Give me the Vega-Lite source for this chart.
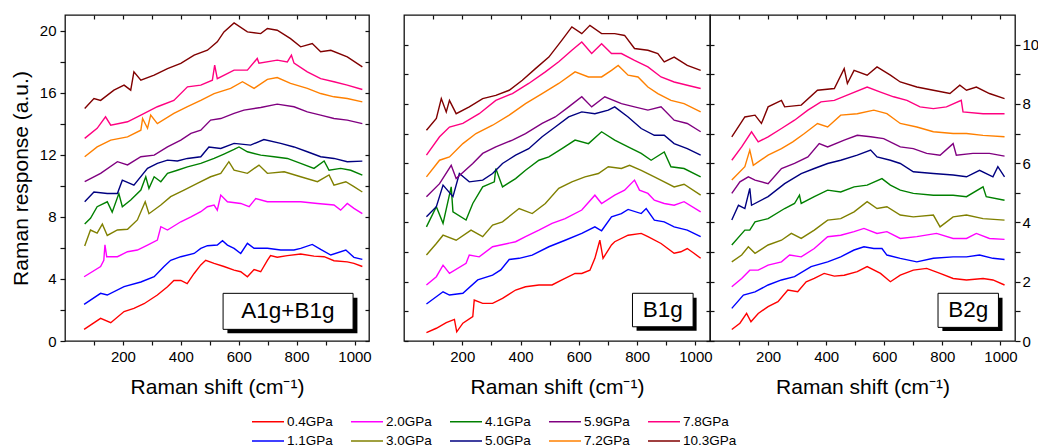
{
"$schema":"https://vega.github.io/schema/vega-lite/v6.json",
"padding":{"left":9,"top":13,"right":2,"bottom":2},
"background":"white",
"config":{"font":"Liberation Sans","view":{"stroke":"#111","strokeWidth":1.3},
"axis":{"domain":false,"grid":false,"labelFont":"Liberation Sans","labelFontSize":15,"labelColor":"black","tickColor":"#111","tickWidth":1.2,"titleFont":"Liberation Sans","titleFontSize":21,"titleFontWeight":"normal","titleColor":"black","labelFlush":false,"labelOverlap":false},
"legend":{"labelFont":"Liberation Sans"}},
"data":{"values":[
{"p":"A","s":"0.4GPa","x":66,"y":0.75},{"p":"A","s":"0.4GPa","x":123,"y":1.46},{"p":"A","s":"0.4GPa","x":158,"y":1.18},{"p":"A","s":"0.4GPa","x":204,"y":1.9},{"p":"A","s":"0.4GPa","x":238,"y":2.1},{"p":"A","s":"0.4GPa","x":273,"y":2.4},{"p":"A","s":"0.4GPa","x":319,"y":2.96},{"p":"A","s":"0.4GPa","x":354,"y":3.5},{"p":"A","s":"0.4GPa","x":376,"y":3.9},{"p":"A","s":"0.4GPa","x":400,"y":3.9},{"p":"A","s":"0.4GPa","x":422,"y":3.7},{"p":"A","s":"0.4GPa","x":446,"y":4.35},{"p":"A","s":"0.4GPa","x":469,"y":4.9},{"p":"A","s":"0.4GPa","x":486,"y":5.2},{"p":"A","s":"0.4GPa","x":515,"y":5.0},{"p":"A","s":"0.4GPa","x":549,"y":4.8},{"p":"A","s":"0.4GPa","x":584,"y":4.57},{"p":"A","s":"0.4GPa","x":607,"y":4.46},{"p":"A","s":"0.4GPa","x":630,"y":4.14},{"p":"A","s":"0.4GPa","x":653,"y":4.6},{"p":"A","s":"0.4GPa","x":676,"y":4.46},{"p":"A","s":"0.4GPa","x":699,"y":5.2},{"p":"A","s":"0.4GPa","x":710,"y":5.5},{"p":"A","s":"0.4GPa","x":733,"y":5.4},{"p":"A","s":"0.4GPa","x":768,"y":5.5},{"p":"A","s":"0.4GPa","x":814,"y":5.6},{"p":"A","s":"0.4GPa","x":860,"y":5.47},{"p":"A","s":"0.4GPa","x":895,"y":5.43},{"p":"A","s":"0.4GPa","x":929,"y":5.17},{"p":"A","s":"0.4GPa","x":975,"y":5.1},{"p":"A","s":"0.4GPa","x":998,"y":5.0},{"p":"A","s":"0.4GPa","x":1027,"y":4.8},
{"p":"A","s":"1.1GPa","x":66,"y":2.36},{"p":"A","s":"1.1GPa","x":123,"y":3.07},{"p":"A","s":"1.1GPa","x":146,"y":2.96},{"p":"A","s":"1.1GPa","x":204,"y":3.5},{"p":"A","s":"1.1GPa","x":262,"y":3.8},{"p":"A","s":"1.1GPa","x":308,"y":4.14},{"p":"A","s":"1.1GPa","x":342,"y":4.8},{"p":"A","s":"1.1GPa","x":365,"y":5.2},{"p":"A","s":"1.1GPa","x":400,"y":5.43},{"p":"A","s":"1.1GPa","x":446,"y":5.64},{"p":"A","s":"1.1GPa","x":469,"y":5.97},{"p":"A","s":"1.1GPa","x":492,"y":6.14},{"p":"A","s":"1.1GPa","x":526,"y":6.18},{"p":"A","s":"1.1GPa","x":544,"y":6.46},{"p":"A","s":"1.1GPa","x":561,"y":6.18},{"p":"A","s":"1.1GPa","x":584,"y":5.97},{"p":"A","s":"1.1GPa","x":607,"y":5.64},{"p":"A","s":"1.1GPa","x":630,"y":6.29},{"p":"A","s":"1.1GPa","x":653,"y":5.97},{"p":"A","s":"1.1GPa","x":699,"y":5.97},{"p":"A","s":"1.1GPa","x":745,"y":5.86},{"p":"A","s":"1.1GPa","x":791,"y":5.86},{"p":"A","s":"1.1GPa","x":814,"y":5.97},{"p":"A","s":"1.1GPa","x":854,"y":6.22},{"p":"A","s":"1.1GPa","x":883,"y":5.9},{"p":"A","s":"1.1GPa","x":918,"y":5.54},{"p":"A","s":"1.1GPa","x":970,"y":5.86},{"p":"A","s":"1.1GPa","x":998,"y":5.39},{"p":"A","s":"1.1GPa","x":1027,"y":5.26},
{"p":"A","s":"2.0GPa","x":66,"y":4.14},{"p":"A","s":"2.0GPa","x":123,"y":4.8},{"p":"A","s":"2.0GPa","x":134,"y":5.2},{"p":"A","s":"2.0GPa","x":138,"y":6.2},{"p":"A","s":"2.0GPa","x":144,"y":5.43},{"p":"A","s":"2.0GPa","x":181,"y":5.43},{"p":"A","s":"2.0GPa","x":216,"y":5.75},{"p":"A","s":"2.0GPa","x":250,"y":5.86},{"p":"A","s":"2.0GPa","x":285,"y":6.18},{"p":"A","s":"2.0GPa","x":319,"y":6.5},{"p":"A","s":"2.0GPa","x":331,"y":7.36},{"p":"A","s":"2.0GPa","x":354,"y":7.15},{"p":"A","s":"2.0GPa","x":400,"y":7.68},{"p":"A","s":"2.0GPa","x":435,"y":8.0},{"p":"A","s":"2.0GPa","x":469,"y":8.33},{"p":"A","s":"2.0GPa","x":492,"y":8.65},{"p":"A","s":"2.0GPa","x":515,"y":8.76},{"p":"A","s":"2.0GPa","x":526,"y":8.43},{"p":"A","s":"2.0GPa","x":538,"y":9.4},{"p":"A","s":"2.0GPa","x":561,"y":8.97},{"p":"A","s":"2.0GPa","x":607,"y":8.86},{"p":"A","s":"2.0GPa","x":636,"y":8.65},{"p":"A","s":"2.0GPa","x":659,"y":9.18},{"p":"A","s":"2.0GPa","x":699,"y":8.97},{"p":"A","s":"2.0GPa","x":757,"y":8.97},{"p":"A","s":"2.0GPa","x":814,"y":8.97},{"p":"A","s":"2.0GPa","x":872,"y":8.86},{"p":"A","s":"2.0GPa","x":929,"y":8.76},{"p":"A","s":"2.0GPa","x":952,"y":8.43},{"p":"A","s":"2.0GPa","x":975,"y":8.86},{"p":"A","s":"2.0GPa","x":998,"y":8.54},{"p":"A","s":"2.0GPa","x":1027,"y":8.2},
{"p":"A","s":"3.0GPa","x":68,"y":6.12},{"p":"A","s":"3.0GPa","x":88,"y":7.15},{"p":"A","s":"3.0GPa","x":111,"y":6.95},{"p":"A","s":"3.0GPa","x":129,"y":7.53},{"p":"A","s":"3.0GPa","x":146,"y":6.8},{"p":"A","s":"3.0GPa","x":181,"y":7.15},{"p":"A","s":"3.0GPa","x":216,"y":7.2},{"p":"A","s":"3.0GPa","x":250,"y":7.8},{"p":"A","s":"3.0GPa","x":277,"y":8.97},{"p":"A","s":"3.0GPa","x":290,"y":8.2},{"p":"A","s":"3.0GPa","x":331,"y":8.76},{"p":"A","s":"3.0GPa","x":365,"y":9.3},{"p":"A","s":"3.0GPa","x":411,"y":9.72},{"p":"A","s":"3.0GPa","x":457,"y":10.15},{"p":"A","s":"3.0GPa","x":503,"y":10.58},{"p":"A","s":"3.0GPa","x":538,"y":10.8},{"p":"A","s":"3.0GPa","x":566,"y":11.55},{"p":"A","s":"3.0GPa","x":584,"y":11.0},{"p":"A","s":"3.0GPa","x":630,"y":10.8},{"p":"A","s":"3.0GPa","x":670,"y":11.33},{"p":"A","s":"3.0GPa","x":699,"y":10.8},{"p":"A","s":"3.0GPa","x":757,"y":10.9},{"p":"A","s":"3.0GPa","x":814,"y":10.58},{"p":"A","s":"3.0GPa","x":872,"y":10.26},{"p":"A","s":"3.0GPa","x":912,"y":10.7},{"p":"A","s":"3.0GPa","x":929,"y":10.04},{"p":"A","s":"3.0GPa","x":970,"y":10.26},{"p":"A","s":"3.0GPa","x":998,"y":9.94},{"p":"A","s":"3.0GPa","x":1027,"y":9.6},
{"p":"A","s":"4.1GPa","x":68,"y":7.53},{"p":"A","s":"4.1GPa","x":88,"y":7.9},{"p":"A","s":"4.1GPa","x":111,"y":8.65},{"p":"A","s":"4.1GPa","x":146,"y":8.97},{"p":"A","s":"4.1GPa","x":163,"y":8.3},{"p":"A","s":"4.1GPa","x":186,"y":9.5},{"p":"A","s":"4.1GPa","x":198,"y":8.65},{"p":"A","s":"4.1GPa","x":227,"y":9.08},{"p":"A","s":"4.1GPa","x":262,"y":9.72},{"p":"A","s":"4.1GPa","x":279,"y":10.58},{"p":"A","s":"4.1GPa","x":290,"y":9.83},{"p":"A","s":"4.1GPa","x":308,"y":10.58},{"p":"A","s":"4.1GPa","x":331,"y":10.26},{"p":"A","s":"4.1GPa","x":354,"y":10.8},{"p":"A","s":"4.1GPa","x":388,"y":11.0},{"p":"A","s":"4.1GPa","x":423,"y":11.22},{"p":"A","s":"4.1GPa","x":469,"y":11.44},{"p":"A","s":"4.1GPa","x":515,"y":11.76},{"p":"A","s":"4.1GPa","x":549,"y":12.04},{"p":"A","s":"4.1GPa","x":584,"y":12.34},{"p":"A","s":"4.1GPa","x":601,"y":12.5},{"p":"A","s":"4.1GPa","x":630,"y":12.19},{"p":"A","s":"4.1GPa","x":676,"y":11.97},{"p":"A","s":"4.1GPa","x":722,"y":11.87},{"p":"A","s":"4.1GPa","x":768,"y":11.76},{"p":"A","s":"4.1GPa","x":814,"y":11.44},{"p":"A","s":"4.1GPa","x":860,"y":11.12},{"p":"A","s":"4.1GPa","x":895,"y":11.6},{"p":"A","s":"4.1GPa","x":912,"y":11.0},{"p":"A","s":"4.1GPa","x":952,"y":11.12},{"p":"A","s":"4.1GPa","x":987,"y":11.0},{"p":"A","s":"4.1GPa","x":1027,"y":10.69},
{"p":"A","s":"5.0GPa","x":68,"y":8.97},{"p":"A","s":"5.0GPa","x":100,"y":9.6},{"p":"A","s":"5.0GPa","x":146,"y":9.5},{"p":"A","s":"5.0GPa","x":181,"y":9.5},{"p":"A","s":"5.0GPa","x":198,"y":10.36},{"p":"A","s":"5.0GPa","x":238,"y":10.04},{"p":"A","s":"5.0GPa","x":285,"y":11.12},{"p":"A","s":"5.0GPa","x":319,"y":11.44},{"p":"A","s":"5.0GPa","x":354,"y":11.65},{"p":"A","s":"5.0GPa","x":388,"y":11.6},{"p":"A","s":"5.0GPa","x":423,"y":11.76},{"p":"A","s":"5.0GPa","x":469,"y":11.87},{"p":"A","s":"5.0GPa","x":497,"y":12.5},{"p":"A","s":"5.0GPa","x":538,"y":12.4},{"p":"A","s":"5.0GPa","x":584,"y":12.73},{"p":"A","s":"5.0GPa","x":641,"y":12.62},{"p":"A","s":"5.0GPa","x":687,"y":12.98},{"p":"A","s":"5.0GPa","x":745,"y":12.73},{"p":"A","s":"5.0GPa","x":791,"y":12.5},{"p":"A","s":"5.0GPa","x":837,"y":12.19},{"p":"A","s":"5.0GPa","x":883,"y":11.87},{"p":"A","s":"5.0GPa","x":929,"y":11.76},{"p":"A","s":"5.0GPa","x":975,"y":11.55},{"p":"A","s":"5.0GPa","x":1027,"y":11.59},
{"p":"A","s":"5.9GPa","x":68,"y":10.26},{"p":"A","s":"5.9GPa","x":123,"y":10.8},{"p":"A","s":"5.9GPa","x":181,"y":11.55},{"p":"A","s":"5.9GPa","x":216,"y":11.34},{"p":"A","s":"5.9GPa","x":262,"y":11.87},{"p":"A","s":"5.9GPa","x":308,"y":11.97},{"p":"A","s":"5.9GPa","x":354,"y":12.5},{"p":"A","s":"5.9GPa","x":400,"y":12.94},{"p":"A","s":"5.9GPa","x":435,"y":13.37},{"p":"A","s":"5.9GPa","x":469,"y":13.58},{"p":"A","s":"5.9GPa","x":503,"y":14.23},{"p":"A","s":"5.9GPa","x":538,"y":14.33},{"p":"A","s":"5.9GPa","x":584,"y":14.66},{"p":"A","s":"5.9GPa","x":618,"y":14.87},{"p":"A","s":"5.9GPa","x":676,"y":15.04},{"p":"A","s":"5.9GPa","x":733,"y":15.26},{"p":"A","s":"5.9GPa","x":791,"y":15.09},{"p":"A","s":"5.9GPa","x":837,"y":14.76},{"p":"A","s":"5.9GPa","x":883,"y":14.55},{"p":"A","s":"5.9GPa","x":929,"y":14.33},{"p":"A","s":"5.9GPa","x":975,"y":14.23},{"p":"A","s":"5.9GPa","x":1027,"y":14.0},
{"p":"A","s":"7.2GPa","x":68,"y":11.87},{"p":"A","s":"7.2GPa","x":111,"y":12.5},{"p":"A","s":"7.2GPa","x":158,"y":12.94},{"p":"A","s":"7.2GPa","x":216,"y":13.15},{"p":"A","s":"7.2GPa","x":262,"y":13.58},{"p":"A","s":"7.2GPa","x":268,"y":14.33},{"p":"A","s":"7.2GPa","x":285,"y":13.7},{"p":"A","s":"7.2GPa","x":296,"y":14.55},{"p":"A","s":"7.2GPa","x":319,"y":14.0},{"p":"A","s":"7.2GPa","x":376,"y":14.66},{"p":"A","s":"7.2GPa","x":423,"y":15.09},{"p":"A","s":"7.2GPa","x":469,"y":15.5},{"p":"A","s":"7.2GPa","x":515,"y":15.94},{"p":"A","s":"7.2GPa","x":572,"y":16.27},{"p":"A","s":"7.2GPa","x":613,"y":16.7},{"p":"A","s":"7.2GPa","x":653,"y":16.27},{"p":"A","s":"7.2GPa","x":699,"y":16.85},{"p":"A","s":"7.2GPa","x":733,"y":16.97},{"p":"A","s":"7.2GPa","x":779,"y":16.6},{"p":"A","s":"7.2GPa","x":837,"y":16.27},{"p":"A","s":"7.2GPa","x":883,"y":15.94},{"p":"A","s":"7.2GPa","x":929,"y":15.73},{"p":"A","s":"7.2GPa","x":975,"y":15.62},{"p":"A","s":"7.2GPa","x":1027,"y":15.4},
{"p":"A","s":"7.8GPa","x":68,"y":13.05},{"p":"A","s":"7.8GPa","x":111,"y":13.7},{"p":"A","s":"7.8GPa","x":140,"y":14.44},{"p":"A","s":"7.8GPa","x":158,"y":13.9},{"p":"A","s":"7.8GPa","x":216,"y":14.12},{"p":"A","s":"7.8GPa","x":262,"y":14.55},{"p":"A","s":"7.8GPa","x":319,"y":15.09},{"p":"A","s":"7.8GPa","x":376,"y":15.5},{"p":"A","s":"7.8GPa","x":423,"y":16.37},{"p":"A","s":"7.8GPa","x":469,"y":16.48},{"p":"A","s":"7.8GPa","x":509,"y":16.8},{"p":"A","s":"7.8GPa","x":517,"y":17.77},{"p":"A","s":"7.8GPa","x":526,"y":16.9},{"p":"A","s":"7.8GPa","x":584,"y":17.45},{"p":"A","s":"7.8GPa","x":630,"y":17.45},{"p":"A","s":"7.8GPa","x":664,"y":18.2},{"p":"A","s":"7.8GPa","x":670,"y":17.9},{"p":"A","s":"7.8GPa","x":733,"y":18.09},{"p":"A","s":"7.8GPa","x":768,"y":17.98},{"p":"A","s":"7.8GPa","x":782,"y":18.41},{"p":"A","s":"7.8GPa","x":791,"y":17.9},{"p":"A","s":"7.8GPa","x":837,"y":17.34},{"p":"A","s":"7.8GPa","x":883,"y":16.9},{"p":"A","s":"7.8GPa","x":929,"y":16.7},{"p":"A","s":"7.8GPa","x":975,"y":16.48},{"p":"A","s":"7.8GPa","x":1027,"y":16.2},
{"p":"A","s":"10.3GPa","x":68,"y":14.98},{"p":"A","s":"10.3GPa","x":100,"y":15.62},{"p":"A","s":"10.3GPa","x":123,"y":15.5},{"p":"A","s":"10.3GPa","x":169,"y":16.16},{"p":"A","s":"10.3GPa","x":204,"y":16.48},{"p":"A","s":"10.3GPa","x":227,"y":16.16},{"p":"A","s":"10.3GPa","x":238,"y":17.34},{"p":"A","s":"10.3GPa","x":262,"y":16.8},{"p":"A","s":"10.3GPa","x":308,"y":17.12},{"p":"A","s":"10.3GPa","x":354,"y":17.55},{"p":"A","s":"10.3GPa","x":400,"y":17.88},{"p":"A","s":"10.3GPa","x":446,"y":18.41},{"p":"A","s":"10.3GPa","x":492,"y":18.73},{"p":"A","s":"10.3GPa","x":526,"y":19.27},{"p":"A","s":"10.3GPa","x":549,"y":19.91},{"p":"A","s":"10.3GPa","x":584,"y":20.49},{"p":"A","s":"10.3GPa","x":630,"y":19.91},{"p":"A","s":"10.3GPa","x":676,"y":19.8},{"p":"A","s":"10.3GPa","x":699,"y":20.13},{"p":"A","s":"10.3GPa","x":733,"y":20.02},{"p":"A","s":"10.3GPa","x":779,"y":19.48},{"p":"A","s":"10.3GPa","x":814,"y":18.95},{"p":"A","s":"10.3GPa","x":854,"y":19.16},{"p":"A","s":"10.3GPa","x":883,"y":18.63},{"p":"A","s":"10.3GPa","x":918,"y":18.73},{"p":"A","s":"10.3GPa","x":975,"y":18.3},{"p":"A","s":"10.3GPa","x":1027,"y":17.66},
{"p":"B","s":"0.4GPa","x":77,"y":0.28},{"p":"B","s":"0.4GPa","x":111,"y":0.43},{"p":"B","s":"0.4GPa","x":145,"y":0.62},{"p":"B","s":"0.4GPa","x":173,"y":0.73},{"p":"B","s":"0.4GPa","x":181,"y":0.31},{"p":"B","s":"0.4GPa","x":202,"y":0.6},{"p":"B","s":"0.4GPa","x":236,"y":0.82},{"p":"B","s":"0.4GPa","x":241,"y":1.38},{"p":"B","s":"0.4GPa","x":270,"y":1.27},{"p":"B","s":"0.4GPa","x":304,"y":1.27},{"p":"B","s":"0.4GPa","x":338,"y":1.44},{"p":"B","s":"0.4GPa","x":383,"y":1.72},{"p":"B","s":"0.4GPa","x":417,"y":1.83},{"p":"B","s":"0.4GPa","x":463,"y":1.89},{"p":"B","s":"0.4GPa","x":508,"y":1.89},{"p":"B","s":"0.4GPa","x":542,"y":2.06},{"p":"B","s":"0.4GPa","x":587,"y":2.28},{"p":"B","s":"0.4GPa","x":610,"y":2.28},{"p":"B","s":"0.4GPa","x":638,"y":2.39},{"p":"B","s":"0.4GPa","x":655,"y":2.79},{"p":"B","s":"0.4GPa","x":672,"y":3.4},{"p":"B","s":"0.4GPa","x":683,"y":2.79},{"p":"B","s":"0.4GPa","x":712,"y":3.24},{"p":"B","s":"0.4GPa","x":723,"y":3.35},{"p":"B","s":"0.4GPa","x":769,"y":3.57},{"p":"B","s":"0.4GPa","x":814,"y":3.63},{"p":"B","s":"0.4GPa","x":837,"y":3.52},{"p":"B","s":"0.4GPa","x":882,"y":3.29},{"p":"B","s":"0.4GPa","x":927,"y":2.96},{"p":"B","s":"0.4GPa","x":950,"y":3.01},{"p":"B","s":"0.4GPa","x":972,"y":3.12},{"p":"B","s":"0.4GPa","x":995,"y":2.96},{"p":"B","s":"0.4GPa","x":1018,"y":2.79},
{"p":"B","s":"1.1GPa","x":77,"y":1.25},{"p":"B","s":"1.1GPa","x":134,"y":1.66},{"p":"B","s":"1.1GPa","x":156,"y":1.55},{"p":"B","s":"1.1GPa","x":202,"y":1.61},{"p":"B","s":"1.1GPa","x":253,"y":2.06},{"p":"B","s":"1.1GPa","x":304,"y":2.22},{"p":"B","s":"1.1GPa","x":332,"y":2.4},{"p":"B","s":"1.1GPa","x":361,"y":2.75},{"p":"B","s":"1.1GPa","x":395,"y":2.79},{"p":"B","s":"1.1GPa","x":440,"y":2.9},{"p":"B","s":"1.1GPa","x":497,"y":3.18},{"p":"B","s":"1.1GPa","x":553,"y":3.4},{"p":"B","s":"1.1GPa","x":610,"y":3.63},{"p":"B","s":"1.1GPa","x":655,"y":3.85},{"p":"B","s":"1.1GPa","x":678,"y":3.72},{"p":"B","s":"1.1GPa","x":712,"y":4.19},{"p":"B","s":"1.1GPa","x":746,"y":4.3},{"p":"B","s":"1.1GPa","x":769,"y":4.44},{"p":"B","s":"1.1GPa","x":814,"y":4.3},{"p":"B","s":"1.1GPa","x":831,"y":4.47},{"p":"B","s":"1.1GPa","x":859,"y":4.08},{"p":"B","s":"1.1GPa","x":893,"y":4.02},{"p":"B","s":"1.1GPa","x":927,"y":3.85},{"p":"B","s":"1.1GPa","x":972,"y":3.74},{"p":"B","s":"1.1GPa","x":1018,"y":3.52},
{"p":"B","s":"2.0GPa","x":77,"y":1.89},{"p":"B","s":"2.0GPa","x":111,"y":2.17},{"p":"B","s":"2.0GPa","x":134,"y":2.56},{"p":"B","s":"2.0GPa","x":156,"y":2.28},{"p":"B","s":"2.0GPa","x":213,"y":2.62},{"p":"B","s":"2.0GPa","x":224,"y":2.9},{"p":"B","s":"2.0GPa","x":258,"y":2.84},{"p":"B","s":"2.0GPa","x":304,"y":3.18},{"p":"B","s":"2.0GPa","x":383,"y":3.35},{"p":"B","s":"2.0GPa","x":417,"y":3.52},{"p":"B","s":"2.0GPa","x":463,"y":3.74},{"p":"B","s":"2.0GPa","x":508,"y":3.97},{"p":"B","s":"2.0GPa","x":553,"y":4.13},{"p":"B","s":"2.0GPa","x":610,"y":4.42},{"p":"B","s":"2.0GPa","x":655,"y":4.92},{"p":"B","s":"2.0GPa","x":678,"y":4.64},{"p":"B","s":"2.0GPa","x":723,"y":4.92},{"p":"B","s":"2.0GPa","x":757,"y":5.09},{"p":"B","s":"2.0GPa","x":791,"y":5.43},{"p":"B","s":"2.0GPa","x":808,"y":5.09},{"p":"B","s":"2.0GPa","x":837,"y":4.98},{"p":"B","s":"2.0GPa","x":859,"y":4.75},{"p":"B","s":"2.0GPa","x":893,"y":4.64},{"p":"B","s":"2.0GPa","x":927,"y":4.58},{"p":"B","s":"2.0GPa","x":961,"y":4.7},{"p":"B","s":"2.0GPa","x":1018,"y":4.36},
{"p":"B","s":"3.0GPa","x":77,"y":2.9},{"p":"B","s":"3.0GPa","x":111,"y":3.29},{"p":"B","s":"3.0GPa","x":134,"y":3.57},{"p":"B","s":"3.0GPa","x":179,"y":3.4},{"p":"B","s":"3.0GPa","x":230,"y":3.74},{"p":"B","s":"3.0GPa","x":270,"y":3.52},{"p":"B","s":"3.0GPa","x":304,"y":3.91},{"p":"B","s":"3.0GPa","x":338,"y":4.02},{"p":"B","s":"3.0GPa","x":395,"y":4.47},{"p":"B","s":"3.0GPa","x":440,"y":4.3},{"p":"B","s":"3.0GPa","x":485,"y":4.64},{"p":"B","s":"3.0GPa","x":531,"y":5.15},{"p":"B","s":"3.0GPa","x":576,"y":5.37},{"p":"B","s":"3.0GPa","x":621,"y":5.54},{"p":"B","s":"3.0GPa","x":667,"y":5.65},{"p":"B","s":"3.0GPa","x":701,"y":5.88},{"p":"B","s":"3.0GPa","x":746,"y":5.82},{"p":"B","s":"3.0GPa","x":774,"y":5.93},{"p":"B","s":"3.0GPa","x":814,"y":5.76},{"p":"B","s":"3.0GPa","x":859,"y":5.54},{"p":"B","s":"3.0GPa","x":893,"y":5.37},{"p":"B","s":"3.0GPa","x":927,"y":5.2},{"p":"B","s":"3.0GPa","x":961,"y":5.29},{"p":"B","s":"3.0GPa","x":1018,"y":4.92},
{"p":"B","s":"4.1GPa","x":77,"y":3.85},{"p":"B","s":"4.1GPa","x":111,"y":4.53},{"p":"B","s":"4.1GPa","x":134,"y":3.97},{"p":"B","s":"4.1GPa","x":162,"y":5.2},{"p":"B","s":"4.1GPa","x":168,"y":4.36},{"p":"B","s":"4.1GPa","x":213,"y":4.08},{"p":"B","s":"4.1GPa","x":236,"y":4.64},{"p":"B","s":"4.1GPa","x":270,"y":5.2},{"p":"B","s":"4.1GPa","x":310,"y":5.37},{"p":"B","s":"4.1GPa","x":315,"y":5.82},{"p":"B","s":"4.1GPa","x":338,"y":5.2},{"p":"B","s":"4.1GPa","x":383,"y":5.48},{"p":"B","s":"4.1GPa","x":417,"y":5.76},{"p":"B","s":"4.1GPa","x":463,"y":6.1},{"p":"B","s":"4.1GPa","x":497,"y":6.21},{"p":"B","s":"4.1GPa","x":542,"y":6.49},{"p":"B","s":"4.1GPa","x":587,"y":6.78},{"p":"B","s":"4.1GPa","x":633,"y":6.66},{"p":"B","s":"4.1GPa","x":678,"y":7.06},{"p":"B","s":"4.1GPa","x":723,"y":6.78},{"p":"B","s":"4.1GPa","x":769,"y":6.55},{"p":"B","s":"4.1GPa","x":814,"y":6.33},{"p":"B","s":"4.1GPa","x":848,"y":6.1},{"p":"B","s":"4.1GPa","x":893,"y":6.38},{"p":"B","s":"4.1GPa","x":916,"y":5.88},{"p":"B","s":"4.1GPa","x":961,"y":5.82},{"p":"B","s":"4.1GPa","x":1018,"y":5.54},
{"p":"B","s":"5.0GPa","x":77,"y":4.19},{"p":"B","s":"5.0GPa","x":111,"y":4.53},{"p":"B","s":"5.0GPa","x":134,"y":5.26},{"p":"B","s":"5.0GPa","x":168,"y":4.87},{"p":"B","s":"5.0GPa","x":190,"y":5.65},{"p":"B","s":"5.0GPa","x":224,"y":5.37},{"p":"B","s":"5.0GPa","x":270,"y":5.43},{"p":"B","s":"5.0GPa","x":304,"y":5.65},{"p":"B","s":"5.0GPa","x":338,"y":5.99},{"p":"B","s":"5.0GPa","x":383,"y":6.27},{"p":"B","s":"5.0GPa","x":428,"y":6.49},{"p":"B","s":"5.0GPa","x":474,"y":6.89},{"p":"B","s":"5.0GPa","x":519,"y":7.22},{"p":"B","s":"5.0GPa","x":565,"y":7.56},{"p":"B","s":"5.0GPa","x":610,"y":7.73},{"p":"B","s":"5.0GPa","x":655,"y":7.67},{"p":"B","s":"5.0GPa","x":701,"y":7.79},{"p":"B","s":"5.0GPa","x":723,"y":7.9},{"p":"B","s":"5.0GPa","x":769,"y":7.56},{"p":"B","s":"5.0GPa","x":814,"y":7.17},{"p":"B","s":"5.0GPa","x":859,"y":6.94},{"p":"B","s":"5.0GPa","x":893,"y":6.94},{"p":"B","s":"5.0GPa","x":927,"y":6.66},{"p":"B","s":"5.0GPa","x":972,"y":6.49},{"p":"B","s":"5.0GPa","x":1018,"y":6.27},
{"p":"B","s":"5.9GPa","x":77,"y":4.87},{"p":"B","s":"5.9GPa","x":122,"y":5.31},{"p":"B","s":"5.9GPa","x":162,"y":5.93},{"p":"B","s":"5.9GPa","x":179,"y":5.48},{"p":"B","s":"5.9GPa","x":236,"y":5.99},{"p":"B","s":"5.9GPa","x":270,"y":6.33},{"p":"B","s":"5.9GPa","x":315,"y":6.55},{"p":"B","s":"5.9GPa","x":372,"y":6.78},{"p":"B","s":"5.9GPa","x":417,"y":7.0},{"p":"B","s":"5.9GPa","x":474,"y":7.34},{"p":"B","s":"5.9GPa","x":519,"y":7.56},{"p":"B","s":"5.9GPa","x":565,"y":7.9},{"p":"B","s":"5.9GPa","x":610,"y":8.24},{"p":"B","s":"5.9GPa","x":644,"y":7.9},{"p":"B","s":"5.9GPa","x":689,"y":8.24},{"p":"B","s":"5.9GPa","x":746,"y":8.01},{"p":"B","s":"5.9GPa","x":791,"y":7.9},{"p":"B","s":"5.9GPa","x":837,"y":7.79},{"p":"B","s":"5.9GPa","x":882,"y":7.9},{"p":"B","s":"5.9GPa","x":927,"y":7.45},{"p":"B","s":"5.9GPa","x":972,"y":7.34},{"p":"B","s":"5.9GPa","x":1018,"y":7.06},
{"p":"B","s":"7.2GPa","x":77,"y":5.54},{"p":"B","s":"7.2GPa","x":122,"y":6.1},{"p":"B","s":"7.2GPa","x":156,"y":6.21},{"p":"B","s":"7.2GPa","x":202,"y":6.66},{"p":"B","s":"7.2GPa","x":247,"y":7.0},{"p":"B","s":"7.2GPa","x":304,"y":7.28},{"p":"B","s":"7.2GPa","x":361,"y":7.62},{"p":"B","s":"7.2GPa","x":417,"y":8.01},{"p":"B","s":"7.2GPa","x":474,"y":8.35},{"p":"B","s":"7.2GPa","x":531,"y":8.69},{"p":"B","s":"7.2GPa","x":587,"y":9.08},{"p":"B","s":"7.2GPa","x":633,"y":8.91},{"p":"B","s":"7.2GPa","x":678,"y":8.91},{"p":"B","s":"7.2GPa","x":712,"y":9.13},{"p":"B","s":"7.2GPa","x":735,"y":9.3},{"p":"B","s":"7.2GPa","x":769,"y":8.97},{"p":"B","s":"7.2GPa","x":803,"y":8.91},{"p":"B","s":"7.2GPa","x":837,"y":8.57},{"p":"B","s":"7.2GPa","x":871,"y":8.35},{"p":"B","s":"7.2GPa","x":916,"y":8.12},{"p":"B","s":"7.2GPa","x":961,"y":8.01},{"p":"B","s":"7.2GPa","x":1018,"y":7.73},
{"p":"B","s":"7.8GPa","x":77,"y":6.27},{"p":"B","s":"7.8GPa","x":122,"y":6.89},{"p":"B","s":"7.8GPa","x":156,"y":7.22},{"p":"B","s":"7.8GPa","x":202,"y":7.34},{"p":"B","s":"7.8GPa","x":258,"y":7.67},{"p":"B","s":"7.8GPa","x":315,"y":8.12},{"p":"B","s":"7.8GPa","x":372,"y":8.35},{"p":"B","s":"7.8GPa","x":428,"y":8.69},{"p":"B","s":"7.8GPa","x":485,"y":9.08},{"p":"B","s":"7.8GPa","x":531,"y":9.42},{"p":"B","s":"7.8GPa","x":576,"y":9.81},{"p":"B","s":"7.8GPa","x":610,"y":10.09},{"p":"B","s":"7.8GPa","x":644,"y":9.7},{"p":"B","s":"7.8GPa","x":678,"y":10.03},{"p":"B","s":"7.8GPa","x":712,"y":9.7},{"p":"B","s":"7.8GPa","x":746,"y":9.7},{"p":"B","s":"7.8GPa","x":791,"y":9.47},{"p":"B","s":"7.8GPa","x":837,"y":9.25},{"p":"B","s":"7.8GPa","x":882,"y":8.91},{"p":"B","s":"7.8GPa","x":927,"y":8.74},{"p":"B","s":"7.8GPa","x":972,"y":8.63},{"p":"B","s":"7.8GPa","x":1018,"y":8.52},
{"p":"B","s":"10.3GPa","x":77,"y":7.11},{"p":"B","s":"10.3GPa","x":111,"y":7.51},{"p":"B","s":"10.3GPa","x":128,"y":8.18},{"p":"B","s":"10.3GPa","x":145,"y":7.73},{"p":"B","s":"10.3GPa","x":156,"y":8.12},{"p":"B","s":"10.3GPa","x":179,"y":7.67},{"p":"B","s":"10.3GPa","x":224,"y":7.9},{"p":"B","s":"10.3GPa","x":270,"y":8.18},{"p":"B","s":"10.3GPa","x":315,"y":8.29},{"p":"B","s":"10.3GPa","x":361,"y":8.46},{"p":"B","s":"10.3GPa","x":406,"y":8.8},{"p":"B","s":"10.3GPa","x":451,"y":9.19},{"p":"B","s":"10.3GPa","x":497,"y":9.58},{"p":"B","s":"10.3GPa","x":542,"y":10.15},{"p":"B","s":"10.3GPa","x":576,"y":10.6},{"p":"B","s":"10.3GPa","x":610,"y":10.37},{"p":"B","s":"10.3GPa","x":638,"y":10.65},{"p":"B","s":"10.3GPa","x":678,"y":10.37},{"p":"B","s":"10.3GPa","x":723,"y":10.37},{"p":"B","s":"10.3GPa","x":757,"y":10.31},{"p":"B","s":"10.3GPa","x":791,"y":9.87},{"p":"B","s":"10.3GPa","x":837,"y":9.81},{"p":"B","s":"10.3GPa","x":871,"y":9.7},{"p":"B","s":"10.3GPa","x":893,"y":9.42},{"p":"B","s":"10.3GPa","x":927,"y":9.58},{"p":"B","s":"10.3GPa","x":972,"y":9.3},{"p":"B","s":"10.3GPa","x":1018,"y":9.13},
{"p":"C","s":"0.4GPa","x":75,"y":0.39},{"p":"C","s":"0.4GPa","x":103,"y":0.6},{"p":"C","s":"0.4GPa","x":126,"y":0.93},{"p":"C","s":"0.4GPa","x":141,"y":0.65},{"p":"C","s":"0.4GPa","x":166,"y":0.93},{"p":"C","s":"0.4GPa","x":200,"y":1.16},{"p":"C","s":"0.4GPa","x":234,"y":1.33},{"p":"C","s":"0.4GPa","x":268,"y":1.72},{"p":"C","s":"0.4GPa","x":302,"y":1.66},{"p":"C","s":"0.4GPa","x":331,"y":2.0},{"p":"C","s":"0.4GPa","x":359,"y":2.11},{"p":"C","s":"0.4GPa","x":393,"y":2.28},{"p":"C","s":"0.4GPa","x":428,"y":2.19},{"p":"C","s":"0.4GPa","x":462,"y":2.22},{"p":"C","s":"0.4GPa","x":507,"y":2.34},{"p":"C","s":"0.4GPa","x":541,"y":2.51},{"p":"C","s":"0.4GPa","x":587,"y":2.28},{"p":"C","s":"0.4GPa","x":621,"y":2.0},{"p":"C","s":"0.4GPa","x":655,"y":2.22},{"p":"C","s":"0.4GPa","x":700,"y":2.39},{"p":"C","s":"0.4GPa","x":746,"y":2.45},{"p":"C","s":"0.4GPa","x":792,"y":2.28},{"p":"C","s":"0.4GPa","x":837,"y":2.11},{"p":"C","s":"0.4GPa","x":883,"y":2.06},{"p":"C","s":"0.4GPa","x":940,"y":2.11},{"p":"C","s":"0.4GPa","x":974,"y":2.06},{"p":"C","s":"0.4GPa","x":1014,"y":1.89},
{"p":"C","s":"1.1GPa","x":75,"y":1.1},{"p":"C","s":"1.1GPa","x":115,"y":1.55},{"p":"C","s":"1.1GPa","x":155,"y":1.66},{"p":"C","s":"1.1GPa","x":200,"y":1.89},{"p":"C","s":"1.1GPa","x":246,"y":2.06},{"p":"C","s":"1.1GPa","x":291,"y":2.17},{"p":"C","s":"1.1GPa","x":348,"y":2.51},{"p":"C","s":"1.1GPa","x":405,"y":2.67},{"p":"C","s":"1.1GPa","x":450,"y":2.84},{"p":"C","s":"1.1GPa","x":496,"y":3.07},{"p":"C","s":"1.1GPa","x":530,"y":3.18},{"p":"C","s":"1.1GPa","x":564,"y":3.12},{"p":"C","s":"1.1GPa","x":592,"y":3.12},{"p":"C","s":"1.1GPa","x":609,"y":2.9},{"p":"C","s":"1.1GPa","x":655,"y":2.79},{"p":"C","s":"1.1GPa","x":712,"y":2.67},{"p":"C","s":"1.1GPa","x":769,"y":2.79},{"p":"C","s":"1.1GPa","x":837,"y":2.84},{"p":"C","s":"1.1GPa","x":883,"y":2.84},{"p":"C","s":"1.1GPa","x":928,"y":2.9},{"p":"C","s":"1.1GPa","x":974,"y":2.79},{"p":"C","s":"1.1GPa","x":1014,"y":2.75},
{"p":"C","s":"2.0GPa","x":75,"y":1.83},{"p":"C","s":"2.0GPa","x":109,"y":2.11},{"p":"C","s":"2.0GPa","x":137,"y":2.39},{"p":"C","s":"2.0GPa","x":166,"y":2.39},{"p":"C","s":"2.0GPa","x":200,"y":2.56},{"p":"C","s":"2.0GPa","x":246,"y":2.67},{"p":"C","s":"2.0GPa","x":274,"y":2.9},{"p":"C","s":"2.0GPa","x":314,"y":2.84},{"p":"C","s":"2.0GPa","x":359,"y":3.12},{"p":"C","s":"2.0GPa","x":405,"y":3.52},{"p":"C","s":"2.0GPa","x":450,"y":3.57},{"p":"C","s":"2.0GPa","x":496,"y":3.69},{"p":"C","s":"2.0GPa","x":530,"y":3.8},{"p":"C","s":"2.0GPa","x":575,"y":3.63},{"p":"C","s":"2.0GPa","x":609,"y":3.69},{"p":"C","s":"2.0GPa","x":655,"y":3.46},{"p":"C","s":"2.0GPa","x":712,"y":3.52},{"p":"C","s":"2.0GPa","x":780,"y":3.63},{"p":"C","s":"2.0GPa","x":837,"y":3.46},{"p":"C","s":"2.0GPa","x":883,"y":3.46},{"p":"C","s":"2.0GPa","x":917,"y":3.63},{"p":"C","s":"2.0GPa","x":962,"y":3.46},{"p":"C","s":"2.0GPa","x":1014,"y":3.43},
{"p":"C","s":"3.0GPa","x":75,"y":2.67},{"p":"C","s":"3.0GPa","x":109,"y":2.9},{"p":"C","s":"3.0GPa","x":132,"y":3.18},{"p":"C","s":"3.0GPa","x":155,"y":2.96},{"p":"C","s":"3.0GPa","x":200,"y":3.24},{"p":"C","s":"3.0GPa","x":246,"y":3.4},{"p":"C","s":"3.0GPa","x":280,"y":3.63},{"p":"C","s":"3.0GPa","x":314,"y":3.46},{"p":"C","s":"3.0GPa","x":359,"y":3.74},{"p":"C","s":"3.0GPa","x":405,"y":4.08},{"p":"C","s":"3.0GPa","x":450,"y":4.13},{"p":"C","s":"3.0GPa","x":496,"y":4.36},{"p":"C","s":"3.0GPa","x":541,"y":4.7},{"p":"C","s":"3.0GPa","x":575,"y":4.47},{"p":"C","s":"3.0GPa","x":609,"y":4.53},{"p":"C","s":"3.0GPa","x":655,"y":4.25},{"p":"C","s":"3.0GPa","x":700,"y":4.19},{"p":"C","s":"3.0GPa","x":769,"y":4.25},{"p":"C","s":"3.0GPa","x":792,"y":3.85},{"p":"C","s":"3.0GPa","x":837,"y":4.19},{"p":"C","s":"3.0GPa","x":883,"y":4.25},{"p":"C","s":"3.0GPa","x":940,"y":4.13},{"p":"C","s":"3.0GPa","x":1014,"y":4.08},
{"p":"C","s":"4.1GPa","x":75,"y":3.24},{"p":"C","s":"4.1GPa","x":120,"y":3.74},{"p":"C","s":"4.1GPa","x":137,"y":3.74},{"p":"C","s":"4.1GPa","x":155,"y":4.02},{"p":"C","s":"4.1GPa","x":200,"y":4.13},{"p":"C","s":"4.1GPa","x":257,"y":4.47},{"p":"C","s":"4.1GPa","x":291,"y":4.64},{"p":"C","s":"4.1GPa","x":308,"y":4.92},{"p":"C","s":"4.1GPa","x":314,"y":4.64},{"p":"C","s":"4.1GPa","x":359,"y":4.87},{"p":"C","s":"4.1GPa","x":405,"y":5.09},{"p":"C","s":"4.1GPa","x":450,"y":5.03},{"p":"C","s":"4.1GPa","x":496,"y":5.2},{"p":"C","s":"4.1GPa","x":541,"y":5.26},{"p":"C","s":"4.1GPa","x":592,"y":5.48},{"p":"C","s":"4.1GPa","x":621,"y":5.26},{"p":"C","s":"4.1GPa","x":655,"y":5.09},{"p":"C","s":"4.1GPa","x":700,"y":4.98},{"p":"C","s":"4.1GPa","x":769,"y":4.92},{"p":"C","s":"4.1GPa","x":837,"y":4.92},{"p":"C","s":"4.1GPa","x":883,"y":4.87},{"p":"C","s":"4.1GPa","x":940,"y":5.2},{"p":"C","s":"4.1GPa","x":951,"y":4.87},{"p":"C","s":"4.1GPa","x":1014,"y":4.75},
{"p":"C","s":"5.0GPa","x":75,"y":4.08},{"p":"C","s":"5.0GPa","x":98,"y":4.58},{"p":"C","s":"5.0GPa","x":120,"y":4.47},{"p":"C","s":"5.0GPa","x":137,"y":5.15},{"p":"C","s":"5.0GPa","x":143,"y":4.58},{"p":"C","s":"5.0GPa","x":200,"y":4.87},{"p":"C","s":"5.0GPa","x":257,"y":5.31},{"p":"C","s":"5.0GPa","x":314,"y":5.65},{"p":"C","s":"5.0GPa","x":359,"y":5.82},{"p":"C","s":"5.0GPa","x":405,"y":5.99},{"p":"C","s":"5.0GPa","x":450,"y":6.1},{"p":"C","s":"5.0GPa","x":507,"y":6.27},{"p":"C","s":"5.0GPa","x":553,"y":6.44},{"p":"C","s":"5.0GPa","x":575,"y":6.21},{"p":"C","s":"5.0GPa","x":621,"y":6.1},{"p":"C","s":"5.0GPa","x":655,"y":5.99},{"p":"C","s":"5.0GPa","x":700,"y":5.71},{"p":"C","s":"5.0GPa","x":769,"y":5.65},{"p":"C","s":"5.0GPa","x":837,"y":5.6},{"p":"C","s":"5.0GPa","x":883,"y":5.54},{"p":"C","s":"5.0GPa","x":928,"y":5.76},{"p":"C","s":"5.0GPa","x":974,"y":5.54},{"p":"C","s":"5.0GPa","x":991,"y":5.88},{"p":"C","s":"5.0GPa","x":1014,"y":5.54},
{"p":"C","s":"5.9GPa","x":75,"y":4.98},{"p":"C","s":"5.9GPa","x":103,"y":5.37},{"p":"C","s":"5.9GPa","x":132,"y":5.54},{"p":"C","s":"5.9GPa","x":155,"y":5.43},{"p":"C","s":"5.9GPa","x":200,"y":5.31},{"p":"C","s":"5.9GPa","x":246,"y":5.82},{"p":"C","s":"5.9GPa","x":291,"y":5.99},{"p":"C","s":"5.9GPa","x":337,"y":6.21},{"p":"C","s":"5.9GPa","x":376,"y":6.66},{"p":"C","s":"5.9GPa","x":405,"y":6.55},{"p":"C","s":"5.9GPa","x":462,"y":6.78},{"p":"C","s":"5.9GPa","x":507,"y":6.94},{"p":"C","s":"5.9GPa","x":553,"y":6.89},{"p":"C","s":"5.9GPa","x":598,"y":6.83},{"p":"C","s":"5.9GPa","x":655,"y":6.55},{"p":"C","s":"5.9GPa","x":700,"y":6.49},{"p":"C","s":"5.9GPa","x":746,"y":6.33},{"p":"C","s":"5.9GPa","x":792,"y":6.27},{"p":"C","s":"5.9GPa","x":837,"y":6.66},{"p":"C","s":"5.9GPa","x":848,"y":6.27},{"p":"C","s":"5.9GPa","x":905,"y":6.33},{"p":"C","s":"5.9GPa","x":962,"y":6.33},{"p":"C","s":"5.9GPa","x":1014,"y":6.24},
{"p":"C","s":"7.2GPa","x":75,"y":5.43},{"p":"C","s":"7.2GPa","x":120,"y":5.88},{"p":"C","s":"7.2GPa","x":137,"y":6.44},{"p":"C","s":"7.2GPa","x":149,"y":5.93},{"p":"C","s":"7.2GPa","x":200,"y":6.27},{"p":"C","s":"7.2GPa","x":246,"y":6.49},{"p":"C","s":"7.2GPa","x":285,"y":6.72},{"p":"C","s":"7.2GPa","x":325,"y":7.0},{"p":"C","s":"7.2GPa","x":370,"y":7.34},{"p":"C","s":"7.2GPa","x":405,"y":7.22},{"p":"C","s":"7.2GPa","x":450,"y":7.62},{"p":"C","s":"7.2GPa","x":507,"y":7.67},{"p":"C","s":"7.2GPa","x":564,"y":7.79},{"p":"C","s":"7.2GPa","x":609,"y":7.67},{"p":"C","s":"7.2GPa","x":655,"y":7.34},{"p":"C","s":"7.2GPa","x":712,"y":7.22},{"p":"C","s":"7.2GPa","x":769,"y":7.06},{"p":"C","s":"7.2GPa","x":837,"y":7.0},{"p":"C","s":"7.2GPa","x":883,"y":7.0},{"p":"C","s":"7.2GPa","x":940,"y":6.94},{"p":"C","s":"7.2GPa","x":1014,"y":6.89},
{"p":"C","s":"7.8GPa","x":75,"y":6.1},{"p":"C","s":"7.8GPa","x":109,"y":6.55},{"p":"C","s":"7.8GPa","x":143,"y":7.06},{"p":"C","s":"7.8GPa","x":166,"y":6.72},{"p":"C","s":"7.8GPa","x":200,"y":6.89},{"p":"C","s":"7.8GPa","x":246,"y":7.17},{"p":"C","s":"7.8GPa","x":291,"y":7.45},{"p":"C","s":"7.8GPa","x":337,"y":7.79},{"p":"C","s":"7.8GPa","x":382,"y":8.07},{"p":"C","s":"7.8GPa","x":428,"y":8.12},{"p":"C","s":"7.8GPa","x":485,"y":8.35},{"p":"C","s":"7.8GPa","x":541,"y":8.57},{"p":"C","s":"7.8GPa","x":587,"y":8.4},{"p":"C","s":"7.8GPa","x":632,"y":8.24},{"p":"C","s":"7.8GPa","x":678,"y":8.12},{"p":"C","s":"7.8GPa","x":723,"y":7.9},{"p":"C","s":"7.8GPa","x":769,"y":7.84},{"p":"C","s":"7.8GPa","x":814,"y":7.9},{"p":"C","s":"7.8GPa","x":865,"y":8.12},{"p":"C","s":"7.8GPa","x":871,"y":7.73},{"p":"C","s":"7.8GPa","x":940,"y":7.67},{"p":"C","s":"7.8GPa","x":1014,"y":7.67},
{"p":"C","s":"10.3GPa","x":75,"y":6.89},{"p":"C","s":"10.3GPa","x":120,"y":7.56},{"p":"C","s":"10.3GPa","x":155,"y":7.62},{"p":"C","s":"10.3GPa","x":177,"y":7.34},{"p":"C","s":"10.3GPa","x":200,"y":7.9},{"p":"C","s":"10.3GPa","x":246,"y":8.12},{"p":"C","s":"10.3GPa","x":257,"y":7.9},{"p":"C","s":"10.3GPa","x":314,"y":7.96},{"p":"C","s":"10.3GPa","x":370,"y":8.46},{"p":"C","s":"10.3GPa","x":428,"y":8.52},{"p":"C","s":"10.3GPa","x":462,"y":9.19},{"p":"C","s":"10.3GPa","x":473,"y":8.69},{"p":"C","s":"10.3GPa","x":496,"y":9.13},{"p":"C","s":"10.3GPa","x":541,"y":8.97},{"p":"C","s":"10.3GPa","x":575,"y":9.25},{"p":"C","s":"10.3GPa","x":621,"y":8.97},{"p":"C","s":"10.3GPa","x":655,"y":8.74},{"p":"C","s":"10.3GPa","x":712,"y":8.57},{"p":"C","s":"10.3GPa","x":769,"y":8.46},{"p":"C","s":"10.3GPa","x":826,"y":8.35},{"p":"C","s":"10.3GPa","x":860,"y":8.63},{"p":"C","s":"10.3GPa","x":883,"y":8.46},{"p":"C","s":"10.3GPa","x":917,"y":8.57},{"p":"C","s":"10.3GPa","x":962,"y":8.35},{"p":"C","s":"10.3GPa","x":1014,"y":8.18}
]},
"spacing":35,
"bounds":"flush",
"hconcat":[
{"width":304,"height":326,
 "layer":[
  {"transform":[{"filter":"datum.p==='A'"}],
   "mark":{"type":"line","strokeWidth":1.4},
   "encoding":{
    "x":{"field":"x","type":"quantitative","scale":{"domain":[0,1050],"nice":false,"zero":false},"axis":{"orient":"bottom","values":[100,200,300,400,500,600,700,800,900,1000],"labelExpr":"datum.value % 200 === 0 ? datum.label : ''","format":"d","tickSize":4,"labelPadding":4,"title":"Raman shift (cm⁻¹)","titlePadding":12}},
    "y":{"field":"y","type":"quantitative","scale":{"domain":[0,21],"nice":false,"zero":false},"axis":{"orient":"left","values":[0,2,4,6,8,10,12,14,16,18,20],"labelExpr":"datum.value % 4 === 0 ? datum.label : ''","format":"d","tickSize":5,"labelPadding":4,"title":"Raman response (a.u.)","titlePadding":8}},
    "color":{"field":"s","type":"nominal","scale":{"domain":["0.4GPa","2.0GPa","4.1GPa","5.9GPa","7.8GPa","1.1GPa","3.0GPa","5.0GPa","7.2GPa","10.3GPa"],"range":["#FF0000","#FF00FF","#008000","#800080","#FF0080","#0000FF","#808000","#000080","#FF8000","#800000"]},
     "legend":{"orient":"none","legendX":194,"legendY":397.5,"direction":"horizontal","columns":5,"title":null,"symbolType":"M-2,0L2,0","symbolSize":256,"symbolStrokeWidth":1.5,"symbolFillColor":"transparent","labelFontSize":13.5,"labelColor":"black","columnPadding":15,"rowPadding":3.5,"labelOffset":10}}
   }},
  {"data":{"values":[{}]},"mark":{"type":"point","opacity":0},
   "encoding":{"x":{"datum":500,"type":"quantitative","axis":{"orient":"top","values":[100,200,300,400,500,600,700,800,900,1000],"labels":false,"tickSize":-4,"title":null}},
    "y":{"datum":5,"type":"quantitative","axis":{"orient":"right","values":[0,2,4,6,8,10,12,14,16,18,20],"labels":false,"tickSize":-4,"title":null}}}},
  {"data":{"values":[{}]},"mark":{"type":"rect","fill":"black"},
   "encoding":{"x":{"datum":561,"type":"quantitative","axis":null},"x2":{"datum":1010},"y":{"datum":0.5,"type":"quantitative","axis":null},"y2":{"datum":2.79}}},
  {"data":{"values":[{}]},"mark":{"type":"rect","fill":"white","stroke":"black","strokeWidth":1},
   "encoding":{"x":{"datum":546,"type":"quantitative","axis":null},"x2":{"datum":995},"y":{"datum":0.75,"type":"quantitative","axis":null},"y2":{"datum":3.07}}},
  {"data":{"values":[{"t":"A1g+B1g"}]},"mark":{"type":"text","fontSize":22.5,"font":"Liberation Sans","align":"center","baseline":"middle","color":"black"},
   "encoding":{"x":{"datum":770,"type":"quantitative","axis":null},"y":{"datum":1.91,"type":"quantitative","axis":null},"text":{"field":"t"}}}
 ],
 "resolve":{"axis":{"x":"independent","y":"independent"}}
},
{"spacing":0,"bounds":"flush","hconcat":[
{"width":306,"height":326,
 "layer":[
  {"transform":[{"filter":"datum.p==='B'"}],
   "mark":{"type":"line","strokeWidth":1.4},
   "encoding":{
    "x":{"field":"x","type":"quantitative","scale":{"domain":[0,1050],"nice":false,"zero":false},"axis":{"orient":"bottom","values":[100,200,300,400,500,600,700,800,900,1000],"labelExpr":"datum.value % 200 === 0 ? datum.label : ''","format":"d","tickSize":4,"labelPadding":4,"title":"Raman shift (cm⁻¹)","titlePadding":12}},
    "y":{"field":"y","type":"quantitative","scale":{"domain":[0,11],"nice":false,"zero":false},"axis":{"orient":"left","values":[0,1,2,3,4,5,6,7,8,9,10],"labels":false,"tickSize":-4,"title":null}},
    "color":{"field":"s","type":"nominal"}
   }},
  {"data":{"values":[{}]},"mark":{"type":"point","opacity":0},
   "encoding":{"x":{"datum":500,"type":"quantitative","axis":{"orient":"top","values":[100,200,300,400,500,600,700,800,900,1000],"labels":false,"tickSize":-4,"title":null}},
    "y":{"datum":5,"type":"quantitative","axis":{"orient":"right","values":[0,1,2,3,4,5,6,7,8,9,10],"labels":false,"tickSize":-4,"title":null}}}},
  {"data":{"values":[{}]},"mark":{"type":"rect","fill":"black"},
   "encoding":{"x":{"datum":798,"type":"quantitative","axis":null},"x2":{"datum":1004},"y":{"datum":0.35,"type":"quantitative","axis":null},"y2":{"datum":1.46}}},
  {"data":{"values":[{}]},"mark":{"type":"rect","fill":"white","stroke":"black","strokeWidth":1},
   "encoding":{"x":{"datum":784,"type":"quantitative","axis":null},"x2":{"datum":992},"y":{"datum":0.48,"type":"quantitative","axis":null},"y2":{"datum":1.61}}},
  {"data":{"values":[{"t":"B1g"}]},"mark":{"type":"text","fontSize":22.5,"font":"Liberation Sans","align":"center","baseline":"middle","color":"black"},
   "encoding":{"x":{"datum":888,"type":"quantitative","axis":null},"y":{"datum":1.045,"type":"quantitative","axis":null},"text":{"field":"t"}}}
 ],
 "resolve":{"axis":{"x":"independent","y":"independent"}}
},
{"width":305,"height":326,
 "layer":[
  {"transform":[{"filter":"datum.p==='C'"}],
   "mark":{"type":"line","strokeWidth":1.4},
   "encoding":{
    "x":{"field":"x","type":"quantitative","scale":{"domain":[0,1050],"nice":false,"zero":false},"axis":{"orient":"bottom","values":[100,200,300,400,500,600,700,800,900,1000],"labelExpr":"datum.value % 200 === 0 ? datum.label : ''","format":"d","tickSize":4,"labelPadding":4,"title":"Raman shift (cm⁻¹)","titlePadding":12}},
    "y":{"field":"y","type":"quantitative","scale":{"domain":[0,11],"nice":false,"zero":false},"axis":{"orient":"left","values":[0,1,2,3,4,5,6,7,8,9,10],"labels":false,"tickSize":-4,"title":null}},
    "color":{"field":"s","type":"nominal"}
   }},
  {"data":{"values":[{}]},"mark":{"type":"point","opacity":0},
   "encoding":{"x":{"datum":500,"type":"quantitative","axis":{"orient":"top","values":[100,200,300,400,500,600,700,800,900,1000],"labels":false,"tickSize":-4,"title":null}},
    "y":{"datum":5,"type":"quantitative","axis":{"orient":"right","values":[0,1,2,3,4,5,6,7,8,9,10],"labelExpr":"datum.value % 2 === 0 ? datum.label : ''","format":"d","tickSize":5,"labelPadding":2,"title":null}}}},
  {"data":{"values":[{}]},"mark":{"type":"rect","fill":"black"},
   "encoding":{"x":{"datum":800,"type":"quantitative","axis":null},"x2":{"datum":1007},"y":{"datum":0.34,"type":"quantitative","axis":null},"y2":{"datum":1.46}}},
  {"data":{"values":[{}]},"mark":{"type":"rect","fill":"white","stroke":"black","strokeWidth":1},
   "encoding":{"x":{"datum":785,"type":"quantitative","axis":null},"x2":{"datum":993},"y":{"datum":0.46,"type":"quantitative","axis":null},"y2":{"datum":1.61}}},
  {"data":{"values":[{"t":"B2g"}]},"mark":{"type":"text","fontSize":22.5,"font":"Liberation Sans","align":"center","baseline":"middle","color":"black"},
   "encoding":{"x":{"datum":889,"type":"quantitative","axis":null},"y":{"datum":1.035,"type":"quantitative","axis":null},"text":{"field":"t"}}}
 ],
 "resolve":{"axis":{"x":"independent","y":"independent"}}
}
]}
]
}
